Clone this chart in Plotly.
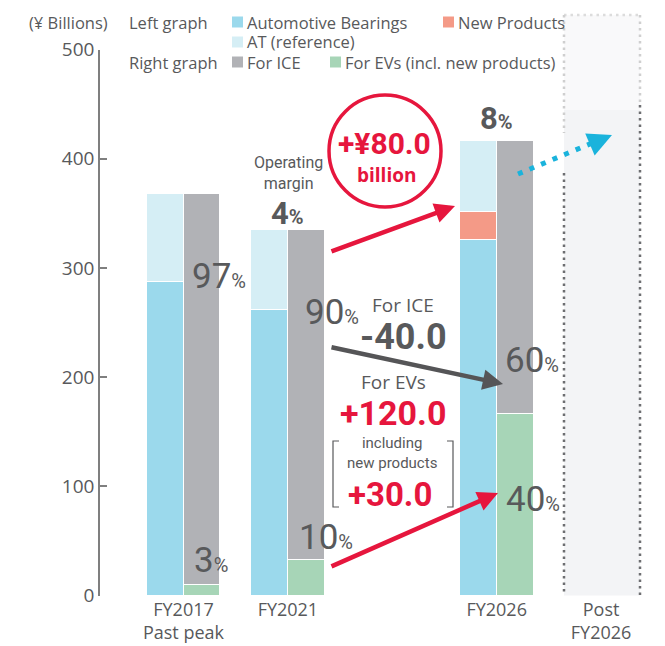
import plotly.graph_objects as go

# values in ¥ billions
categories = ["FY2017<br>Past peak", "FY2021", "FY2026", "Post<br>FY2026"]
x_pos = [0, 1, 3, 4]
automotive_bearings = [288, 262, 326]
new_products = [0, 0, 26]
at_reference = [80, 73, 65]
for_ice = [358, 302, 250]
for_evs = [10, 33, 167]
operating_margin = [None, 4, 8]

# the page body keeps its default 8px margin, so the figure is a bit smaller
# than the window and all layout positions below are in window pixels
OFF = 8
W, H = 665 - OFF, 646 - OFF

C_AUTO = "#9bd9ec"
C_NEW = "#f49a87"
C_AT = "#d5eef5"
C_ICE = "#b1b2b6"
C_EV = "#a7d5b7"
RED = "#e6163d"
DARK = "#58595b"
CYAN = "#1ab3dc"

NUM = "Roboto, Liberation Sans, sans-serif"
TXT = "Open Sans, Noto Sans, sans-serif"


def px(x):
    return (x - OFF) / W


def py(y):
    return 1 - (y - OFF) / H


bar_w = 0.354
n = len(automotive_bearings)
left_x = [p - bar_w / 2 for p in x_pos[:n]]
right_x = [p + bar_w / 2 for p in x_pos[:n]]

fig = go.Figure()
line = dict(color="white", width=1)
for name, vals, col in [("Automotive Bearings", automotive_bearings, C_AUTO),
                        ("New Products", new_products, C_NEW),
                        ("AT (reference)", at_reference, C_AT)]:
    fig.add_trace(go.Bar(x=left_x, y=vals, width=bar_w, name=name,
                         marker=dict(color=col, line=line), hoverinfo="skip"))
for name, vals, col in [("For EVs (incl. new products)", for_evs, C_EV),
                        ("For ICE", for_ice, C_ICE)]:
    fig.add_trace(go.Bar(x=right_x, y=vals, width=bar_w, name=name,
                         marker=dict(color=col, line=line), hoverinfo="skip"))

# post FY2026 placeholder column
fig.add_shape(type="rect", xref="paper", yref="paper", x0=px(564), x1=px(640),
              y0=py(595.5), y1=py(15), fillcolor="#f3f4f6", line_width=0, layer="below")
fig.add_shape(type="rect", xref="paper", yref="paper", x0=px(564), x1=px(640),
              y0=py(110), y1=py(15), fillcolor="#f9f9fa", line_width=0, layer="below")
dots = dict(width=2.5, dash="2.5px,4px")
for x0, y0, x1, y1, c in [(564, 15, 640, 15, "#dcdcdc"),
                          (564, 15, 564, 133, "#cfcfcf"),
                          (564, 173, 564, 595.5, "#6d6e71"),
                          (640, 15, 640, 105, "#cfcfcf"),
                          (640, 105, 640, 595.5, "#6d6e71")]:
    fig.add_shape(type="line", xref="paper", yref="paper", x0=px(x0), y0=py(y0),
                  x1=px(x1), y1=py(y1), line=dict(color=c, **dots), layer="below")

ann = []


def text(x, y, s, size, color=DARK, family=TXT, xa="center", ya="middle"):
    ann.append(dict(x=px(x), y=py(y), xref="paper", yref="paper",
                    text=s, showarrow=False, xanchor=xa, yanchor=ya,
                    font=dict(size=size, color=color, family=family)))


# legend block
text(27, 22, "(¥ Billions)", 16.5, xa="left")
text(127, 22, "Left graph", 16.5, xa="left")
text(127, 62, "Right graph", 16.5, xa="left")
legend_items = [(232, 22, C_AUTO, "Automotive Bearings"), (443, 22, C_NEW, "New Products"),
                (232, 42, C_AT, "AT (reference)"), (232, 62, C_ICE, "For ICE"),
                (330, 62, C_EV, "For EVs (incl. new products)")]
for lx, ly, col, lab in legend_items:
    fig.add_shape(type="rect", xref="paper", yref="paper", x0=px(lx), x1=px(lx + 11),
                  y0=py(ly + 5.5), y1=py(ly - 5.5), fillcolor=col, line_width=0)
    text(lx + 13, ly, lab, 16.5, xa="left")

# share labels
pct = "<span style='font-size:20px'>%</span>"
ice_share = [round(100 * i / (i + e)) for i, e in zip(for_ice, for_evs)]
ev_share = [round(100 * e / (i + e)) for i, e in zip(for_ice, for_evs)]
ice_lab_x = [0.065, 1.14, 3.06]
ice_lab_y = [292, 259, 215]
ev_lab_x = [0.08, 1.09, 3.07]
ev_lab_y = [32, 53, 88]
margin_lab_y = [None, 350, 437]
for i in range(n):
    ann.append(dict(x=ice_lab_x[i], y=ice_lab_y[i], xref="x", yref="y", showarrow=False,
                    xanchor="left", yanchor="middle", text=f"{ice_share[i]}{pct}",
                    font=dict(size=35, color=DARK, family=NUM)))
    ann.append(dict(x=ev_lab_x[i], y=ev_lab_y[i], xref="x", yref="y", showarrow=False,
                    xanchor="left", yanchor="middle", text=f"{ev_share[i]}{pct}",
                    font=dict(size=35, color=DARK, family=NUM)))
    if operating_margin[i] is not None:
        ann.append(dict(x=x_pos[i], y=margin_lab_y[i], xref="x", yref="y",
                        showarrow=False, xanchor="center", yanchor="middle",
                        text=f"<b>{operating_margin[i]}<span style='font-size:20px'>%</span></b>",
                        font=dict(size=31, color=DARK, family=NUM)))
text(288, 173, "Operating<br>margin", 16, family=NUM)

# +80 circle
fig.add_shape(type="circle", xref="paper", yref="paper", x0=px(329), x1=px(441),
              y0=py(207), y1=py(95), line=dict(color=RED, width=3.5), fillcolor="white")
text(384, 143, "<b>+¥80.0</b>", 30, RED, NUM)
text(386, 175, "<b>billion</b>", 19, RED)

text(403, 305, "For ICE", 19)
text(403, 337, "<b>-40.0</b>", 36, DARK, NUM)
text(393, 382, "For EVs", 19)
text(393, 413, "<b>+120.0</b>", 34, RED, NUM)
text(392, 453, "including<br>new products", 15, family=NUM)
text(390, 494, "<b>+30.0</b>", 33, RED, NUM)
for bx, d in [(333, 6), (453, -6)]:
    fig.add_shape(type="path", xref="paper", yref="paper",
                  path=f"M {px(bx + d)} {py(441)} L {px(bx)} {py(441)} L {px(bx)} {py(507)} L {px(bx + d)} {py(507)}",
                  line=dict(color=DARK, width=1.2))

# arrows: (head, tail, colour)
for (hx, hy), (tx, ty), col in [((455, 206), (330, 252), RED),
                                ((503, 384), (330, 347), "#555557"),
                                ((498, 493), (330, 567), RED)]:
    ann.append(dict(x=px(hx), y=py(hy), xref="paper", yref="paper", ax=tx - hx, ay=ty - hy,
                    showarrow=True, arrowhead=2, arrowsize=0.9, arrowwidth=4.5,
                    arrowcolor=col, text=""))

fig.add_shape(type="line", xref="paper", yref="paper", x0=px(518), y0=py(174),
              x1=px(597), y1=py(141), line=dict(color=CYAN, width=5, dash="5px,7.5px"))
ann.append(dict(x=px(612), y=py(135), xref="paper", yref="paper", ax=-14, ay=6,
                showarrow=True, arrowhead=2, arrowsize=1.2, arrowwidth=4,
                arrowcolor=CYAN, text=""))

x0_px, unit = 183.5, 104.4
fig.update_layout(
    width=W, height=H, barmode="stack", showlegend=False,
    margin=dict(l=0, r=0, t=0, b=0, autoexpand=False),
    paper_bgcolor="white", plot_bgcolor="white",
    annotations=ann, bargap=0,
    xaxis=dict(domain=[px(100), 1], range=[(100 - x0_px) / unit, (665 - x0_px) / unit],
               tickvals=x_pos, ticktext=categories, showgrid=False, zeroline=False,
               showline=False, ticks="", automargin=False, ticklabelstandoff=1,
               tickfont=dict(size=18, color=DARK, family=TXT)),
    yaxis=dict(domain=[py(595.5), py(49.5)], range=[0, 500],
               tickvals=[0, 100, 200, 300, 400, 500], showgrid=False, zeroline=False,
               showline=True, linecolor="#7f7f7f", linewidth=1.5, ticks="inside",
               ticklen=7, tickwidth=1.5, tickcolor="#7f7f7f", automargin=False,
               tickfont=dict(size=19, color=DARK, family=TXT)),
)

fig.write_html("out.html")
